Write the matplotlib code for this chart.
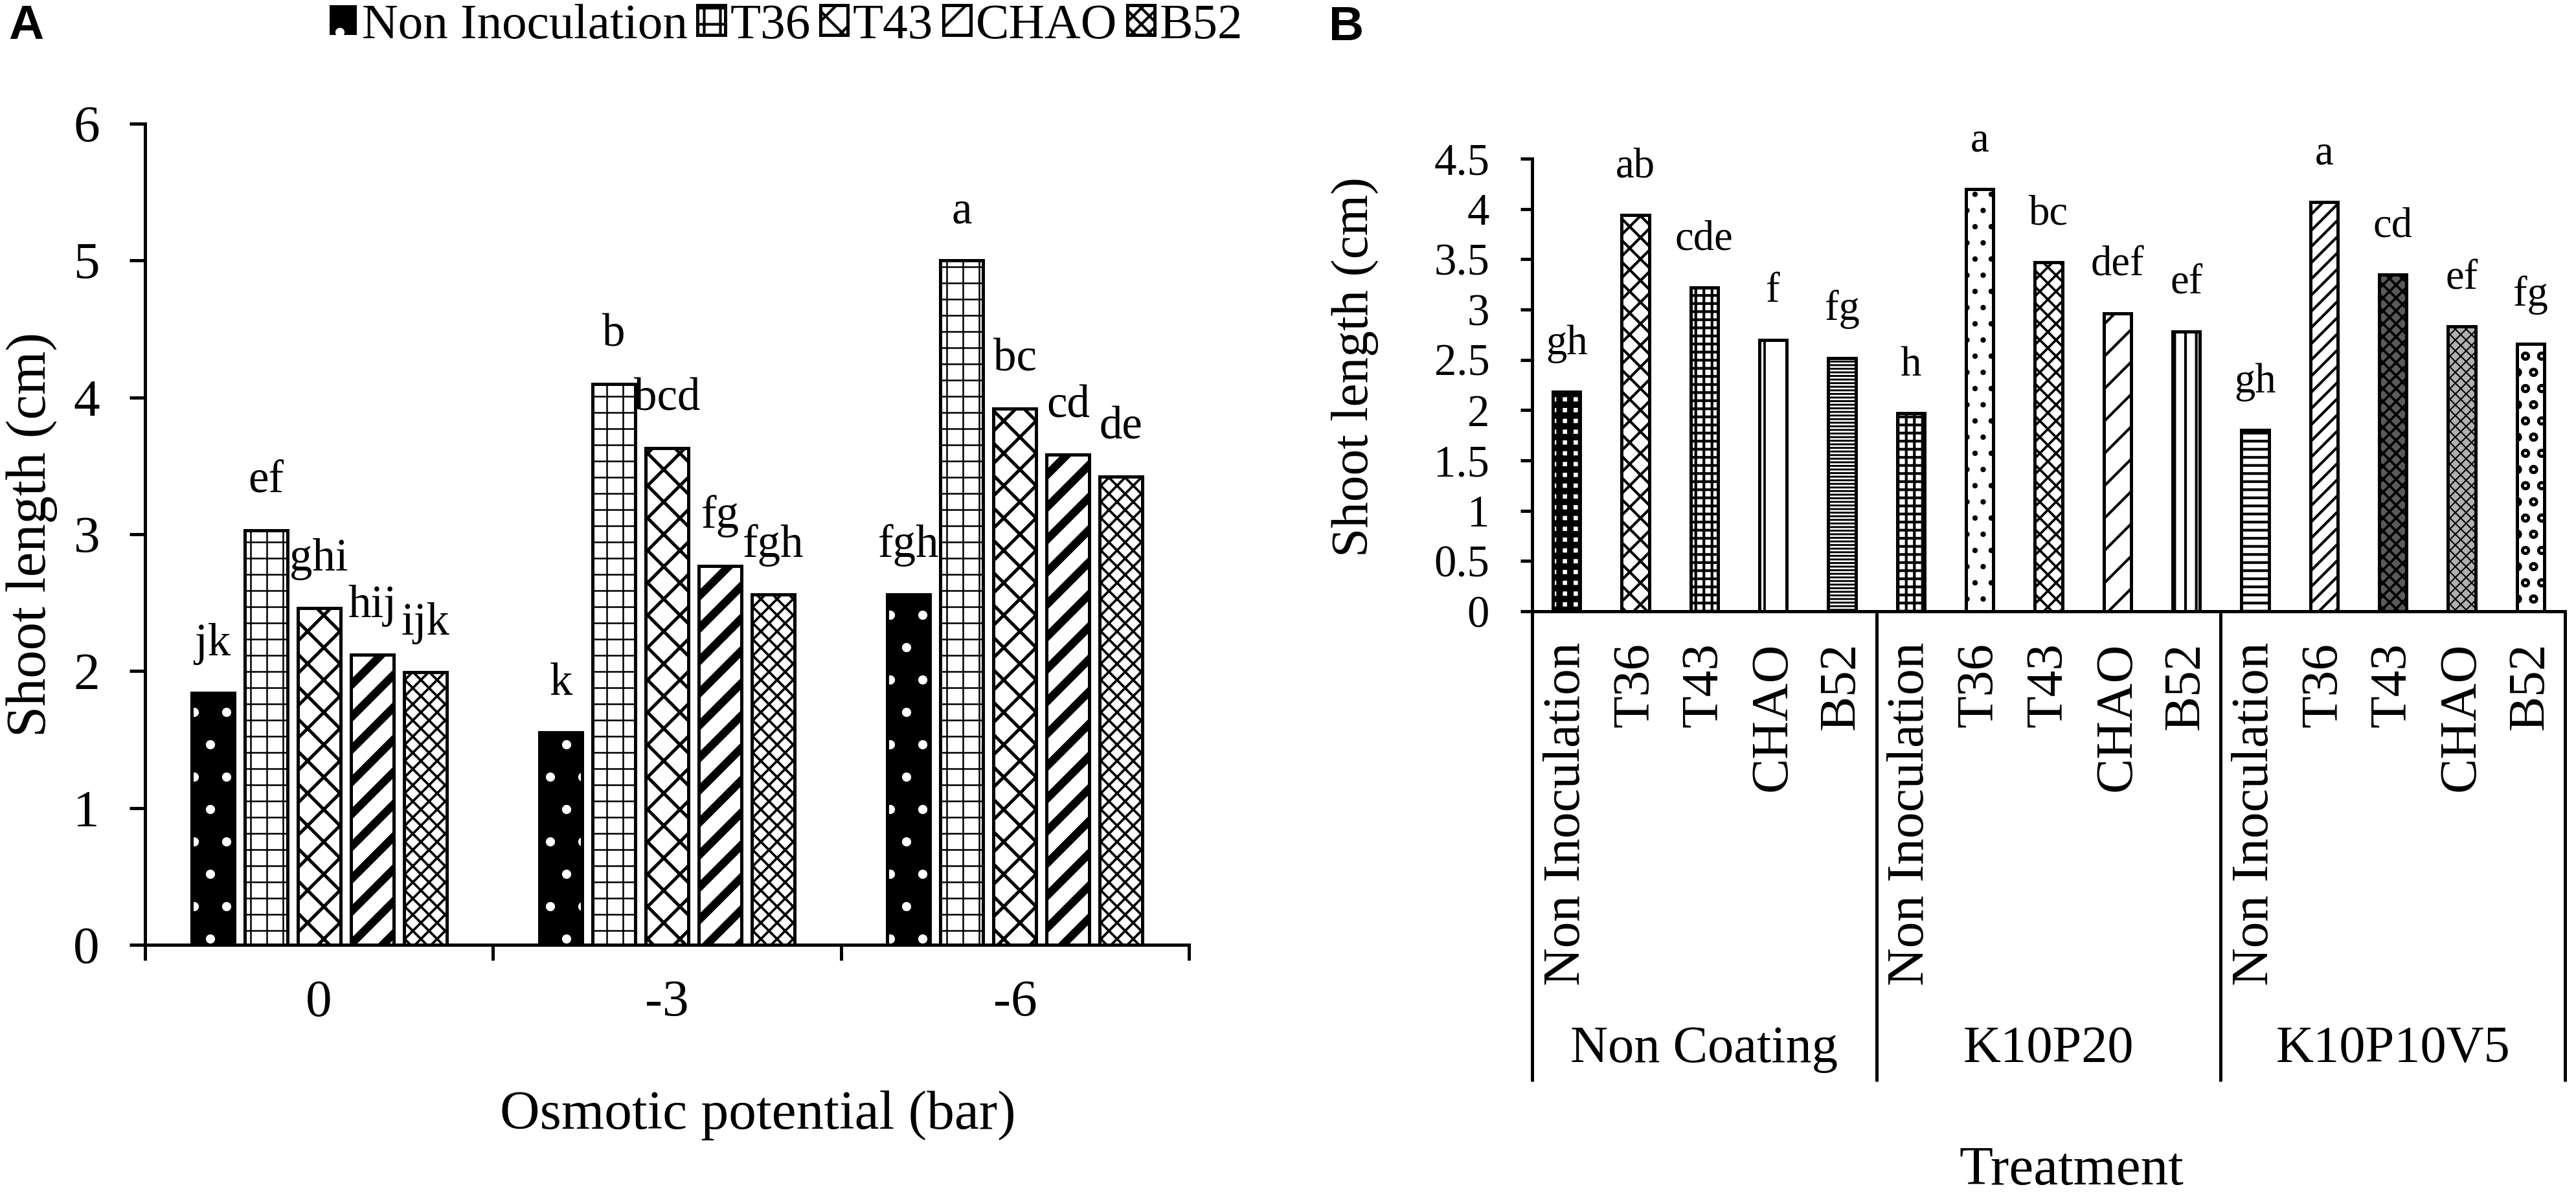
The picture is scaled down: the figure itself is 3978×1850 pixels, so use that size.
import matplotlib
matplotlib.use('Agg')
import matplotlib.pyplot as plt
import numpy as np

plt.rcParams['font.family'] = ['Liberation Serif', 'DejaVu Serif']

# ---------------- data ----------------
osmotic_levels = ['0', '-3', '-6']
inoculants = ['Non Inoculation', 'T36', 'T43', 'CHAO', 'B52']

a_non_inoc = [1.84, 1.55, 2.56]
a_t36 = [3.03, 4.10, 5.00]
a_t43 = [2.46, 3.63, 3.92]
a_chao = [2.12, 2.77, 3.58]
a_b52 = [1.99, 2.56, 3.42]

a_letters_non_inoc = ['jk', 'k', 'fgh']
a_letters_t36 = ['ef', 'b', 'a']
a_letters_t43 = ['ghi', 'bcd', 'bc']
a_letters_chao = ['hij', 'fg', 'cd']
a_letters_b52 = ['ijk', 'fgh', 'de']

coatings = ['Non Coating', 'K10P20', 'K10P10V5']
b_non_coating = [2.18, 3.94, 3.22, 2.70, 2.52]
b_k10p20 = [1.97, 4.20, 3.47, 2.96, 2.78]
b_k10p10v5 = [1.80, 4.07, 3.35, 2.83, 2.66]

b_letters_non_coating = ['gh', 'ab', 'cde', 'f', 'fg']
b_letters_k10p20 = ['h', 'a', 'bc', 'def', 'ef']
b_letters_k10p10v5 = ['gh', 'a', 'cd', 'ef', 'fg']

# ---------------- figure ----------------
W, H, DPI = 3978, 1850, 300
fig = plt.figure(figsize=(W / DPI, H / DPI), dpi=DPI)

def px_x(x):
    return x / W

def px_y(y):
    return 1 - y / H

LW = 1.2


def draw_bar(ax, x, h, width, face, hatch, hlw, hatch_color='black', label=None):
    with plt.rc_context({'hatch.linewidth': hlw}):
        if hatch_color != 'black':
            cont = ax.bar(x, h, width, color=face, edgecolor=hatch_color, hatch=hatch,
                          linewidth=0, label=label, zorder=2)
            ax.bar(x, h, width, fill=False, edgecolor='black', linewidth=LW, zorder=3)
        else:
            cont = ax.bar(x, h, width, color=face, edgecolor='black', hatch=hatch,
                          linewidth=LW, label=label, zorder=2)
    return cont


# ================= Panel A =================
axA = fig.add_axes([px_x(224), px_y(1459), px_x(1836 - 224), (1459 - 191) / H])
a_series = [a_non_inoc, a_t36, a_t43, a_chao, a_b52]
a_letters = [a_letters_non_inoc, a_letters_t36, a_letters_t43, a_letters_chao, a_letters_b52]
a_styles = [
    ('black', '.', 1.0, 'white'),
    ('white', '++', 0.6, 'black'),
    ('white', 'xx', 1.2, 'black'),
    ('white', '//', 3.0, 'black'),
    ('white', 'xxxx', 0.9, 'black'),
]
centers = np.arange(len(osmotic_levels)) + 0.5
pitch = 0.1527
bw = 0.123
handles = []
for i, (vals, lets, st, name) in enumerate(zip(a_series, a_letters, a_styles, inoculants)):
    xs = centers + (i - 2) * pitch
    cont = draw_bar(axA, xs, vals, bw, st[0], st[1], st[2], st[3], label=name)
    handles.append(cont)
    for x, v, t in zip(xs, vals, lets):
        axA.annotate(t, (x, v), xytext=(0, 14), textcoords='offset points',
                     ha='center', va='baseline', fontsize=17)

axA.set_xlim(0, 3)
axA.set_ylim(0, 6)
axA.set_yticks(np.arange(0, 7, 1))
axA.set_yticklabels([str(v) for v in range(7)])
axA.set_xticks(centers)
axA.set_xticklabels(osmotic_levels)
axA.set_xticks([0, 1, 2, 3], minor=True)
axA.tick_params(axis='x', which='major', length=0, pad=13, labelsize=19.5)
axA.tick_params(axis='x', which='minor', length=5.8, width=LW, direction='out')
axA.tick_params(axis='y', length=5.8, width=LW, pad=11, labelsize=19.5)
for s in ['top', 'right']:
    axA.spines[s].set_visible(False)
for s in ['left', 'bottom']:
    axA.spines[s].set_linewidth(LW)
axA.text(0.587, -0.208, 'Osmotic potential (bar)', transform=axA.transAxes,
         ha='center', va='center', fontsize=20.5)
fig.text(px_x(49), px_y(825), 'Shoot length (cm)', rotation=90,
         ha='center', va='center', fontsize=20.8)

leg = fig.legend(handles=handles, labels=inoculants, loc='center',
                 bbox_to_anchor=(px_x(1214), px_y(40)), ncol=5, frameon=False,
                 fontsize=18.5, handlelength=0.55, handleheight=0.55,
                 handletextpad=0.1, columnspacing=0.2, borderpad=0, borderaxespad=0)

# ================= Panel B =================
axB = fig.add_axes([px_x(2366), px_y(944), px_x(3961 - 2366), (944 - 245) / H])
b_values = b_non_coating + b_k10p20 + b_k10p10v5
b_lets = b_letters_non_coating + b_letters_k10p20 + b_letters_k10p10v5
b_labels = inoculants * len(coatings)
b_styles = [
    ('white', '+++', 2.4, 'black'),
    ('white', 'xxx', 1.0, 'black'),
    ('white', '++++', 1.0, 'black'),
    ('white', '|', 0.9, 'black'),
    ('white', '---------', 0.7, 'black'),
    ('white', '++++', 1.0, 'black'),
    ('white', '..', 0.8, 'black'),
    ('white', 'xxxx', 0.9, 'black'),
    ('white', '//', 1.0, 'black'),
    ('white', '|||', 1.0, 'black'),
    ('white', '----', 1.0, 'black'),
    ('white', '////', 1.0, 'black'),
    ('#5a5a5a', 'xxxxx', 0.9, 'black'),
    ('#b0b0b0', 'xxxxxx', 0.5, 'black'),
    ('white', 'oo', 1.0, 'black'),
]
bx = np.arange(len(b_values)) + 0.5
for x, v, t, st in zip(bx, b_values, b_lets, b_styles):
    draw_bar(axB, x, v, 0.4, st[0], st[1], st[2], st[3])
    axB.annotate(t, (x, v), xytext=(0, 14), textcoords='offset points',
                 ha='center', va='baseline', fontsize=15.5)

axB.set_xlim(0, len(b_values))
axB.set_ylim(0, 4.5)
yt = np.arange(0, 4.51, 0.5)
axB.set_yticks(yt)
axB.set_yticklabels([('%g' % v) for v in yt])
axB.tick_params(axis='y', length=4.3, width=LW, pad=11.5, labelsize=16.5)
axB.set_xticks(bx)
axB.set_xticklabels(b_labels, rotation=90, va='top', ha='center')
axB.tick_params(axis='x', length=0, pad=11.5, labelsize=19.5)
for s in ['top', 'right']:
    axB.spines[s].set_visible(False)
for s in ['left', 'bottom']:
    axB.spines[s].set_linewidth(LW)

trans = matplotlib.transforms.blended_transform_factory(axB.transData, axB.transAxes)
for gx in [0, 5, 10, 15]:
    axB.plot([gx, gx], [0, -1.039], transform=trans, color='black', lw=LW,
             clip_on=False, solid_capstyle='butt')
for gi, g in enumerate(coatings):
    axB.text(gi * 5 + 2.5, -0.9685, g, transform=trans, ha='center', va='center',
             fontsize=19.3)
axB.text(0.522, -1.237, 'Treatment', transform=axB.transAxes, ha='center',
         va='center', fontsize=20.4)
fig.text(px_x(2092), px_y(566), 'Shoot length (cm)', rotation=90,
         ha='center', va='center', fontsize=19.5)

# panel tags
fig.text(px_x(40), px_y(40), 'A', fontsize=18, fontweight='bold',
         family=['Liberation Sans Narrow', 'Liberation Sans', 'DejaVu Sans'],
         ha='center', va='center')
fig.text(px_x(2079), px_y(43), 'B', fontsize=18, fontweight='bold',
         family=['Liberation Sans Narrow', 'Liberation Sans', 'DejaVu Sans'],
         ha='center', va='center')

fig.savefig('out.png', dpi=DPI)
